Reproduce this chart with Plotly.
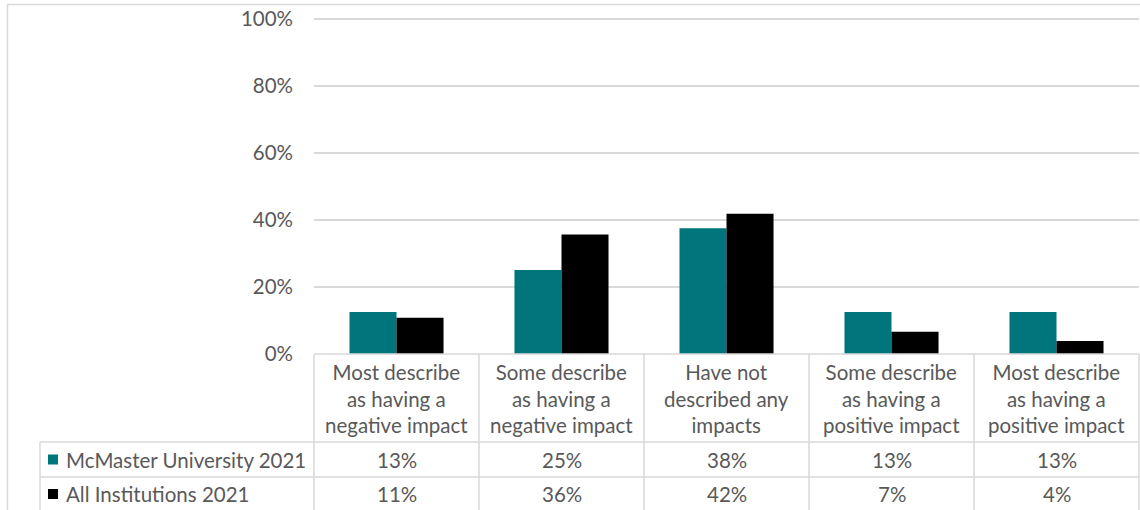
import plotly.graph_objects as go

categories = ["Most describe<br>as having a<br>negative impact",
              "Some describe<br>as having a<br>negative impact",
              "Have not<br>described any<br>impacts",
              "Some describe<br>as having a<br>positive impact",
              "Most describe<br>as having a<br>positive impact"]
series_names = ["McMaster University 2021", "All Institutions 2021"]
mcmaster = [12.5, 25.0, 37.5, 12.5, 12.5]
all_inst = [10.8, 35.6, 41.8, 6.6, 3.9]
y_ticks = [0, 20, 40, 60, 80, 100]
y_tick_labels = ["0%", "20%", "40%", "60%", "80%", "100%"]
colors = ["#00757C", "#000000"]

W, H = 1140, 510
X0, X1 = 314, 1139      # plot area pixel x
Y0, Y100 = 354, 18.5    # pixel y of 0% and 100%
YMAX = 100.5
ROW1, ROW2 = 442, 477   # table row lines
LEFT = 40
FONT = "Lato"
FS = 20.5
GREY = "#595959"
LINE = "#D9D9D9"

def px(x):
    return x / W

def py(y):
    return (H - y) / H

ytop = Y0 - (Y0 - Y100) * YMAX / 100.0

fig = go.Figure()
x_idx = list(range(len(categories)))
for name, vals, c in zip(series_names, [mcmaster, all_inst], colors):
    fig.add_trace(go.Bar(x=x_idx, y=vals, name=name, marker=dict(color=c, line=dict(width=0))))

shapes = []
annotations = []
n = len(categories)
colw = (X1 - X0) / n
# chart border
shapes.append(dict(type="line", xref="paper", yref="paper", x0=px(7), x1=1, y0=py(4.5), y1=py(4.5),
                   line=dict(color=LINE, width=1.5)))
shapes.append(dict(type="line", xref="paper", yref="paper", x0=px(7.5), x1=px(7.5), y0=py(4), y1=0,
                   line=dict(color=LINE, width=1.5)))
# table vertical lines
for i in range(n + 1):
    xx = X0 + i * colw
    shapes.append(dict(type="line", xref="paper", yref="paper", x0=px(xx), x1=px(xx), y0=py(Y0), y1=0,
                       line=dict(color=LINE, width=1.5)))
shapes.append(dict(type="line", xref="paper", yref="paper", x0=px(LEFT), x1=px(LEFT), y0=py(ROW1), y1=0,
                   line=dict(color=LINE, width=1.5)))
for yy in (ROW1, ROW2):
    shapes.append(dict(type="line", xref="paper", yref="paper", x0=px(LEFT), x1=px(X1), y0=py(yy), y1=py(yy),
                       line=dict(color=LINE, width=1.5)))
shapes.append(dict(type="line", xref="paper", yref="paper", x0=px(X0), x1=px(X1), y0=py(Y0), y1=py(Y0),
                   line=dict(color=LINE, width=1.5)))

# category labels
for i, cat in enumerate(categories):
    annotations.append(dict(xref="paper", yref="paper", x=px(X0 + (i + 0.5) * colw), y=py(398),
                            text=cat, showarrow=False, xanchor="center", yanchor="middle",
                            font=dict(family=FONT, size=FS, color=GREY)))
# rows
row_y = [(ROW1 + ROW2) / 2, (ROW2 + 511) / 2]
for r, (name, vals, c) in enumerate(zip(series_names, [mcmaster, all_inst], colors)):
    yc = row_y[r]
    shapes.append(dict(type="rect", xref="paper", yref="paper", x0=px(48), x1=px(58),
                       y0=py(yc + 5), y1=py(yc - 5), fillcolor=c, line=dict(width=0)))
    annotations.append(dict(xref="paper", yref="paper", x=px(64), y=py(yc), text=name, showarrow=False,
                            xanchor="left", yanchor="middle", font=dict(family=FONT, size=FS, color=GREY)))
    for i, v in enumerate(vals):
        annotations.append(dict(xref="paper", yref="paper", x=px(X0 + (i + 0.5) * colw), y=py(yc),
                                text=f"{int(v + 0.5)}%", showarrow=False, xanchor="center", yanchor="middle",
                                font=dict(family=FONT, size=FS, color=GREY)))

fig.update_layout(
    width=W, height=H, autosize=False, margin=dict(l=0, r=0, t=0, b=0, pad=0, autoexpand=False),
    paper_bgcolor="white", plot_bgcolor="white",
    barmode="group", bargap=0.43, bargroupgap=0,
    showlegend=False,
    xaxis=dict(domain=[px(X0), px(X1)], range=[-0.5, n - 0.5], showticklabels=False, automargin=False,
               showgrid=False, zeroline=False, showline=False, ticks=""),
    yaxis=dict(domain=[py(Y0), py(ytop)], range=[0, YMAX], tickmode="array", tickvals=y_ticks,
               ticktext=y_tick_labels, automargin=False,
               showgrid=True, gridcolor=LINE, gridwidth=1.5, zeroline=False, showline=False,
               ticklabelstandoff=20, tickfont=dict(family=FONT, size=FS, color=GREY)),
    shapes=shapes, annotations=annotations,
)
fig.write_html("out.html")
